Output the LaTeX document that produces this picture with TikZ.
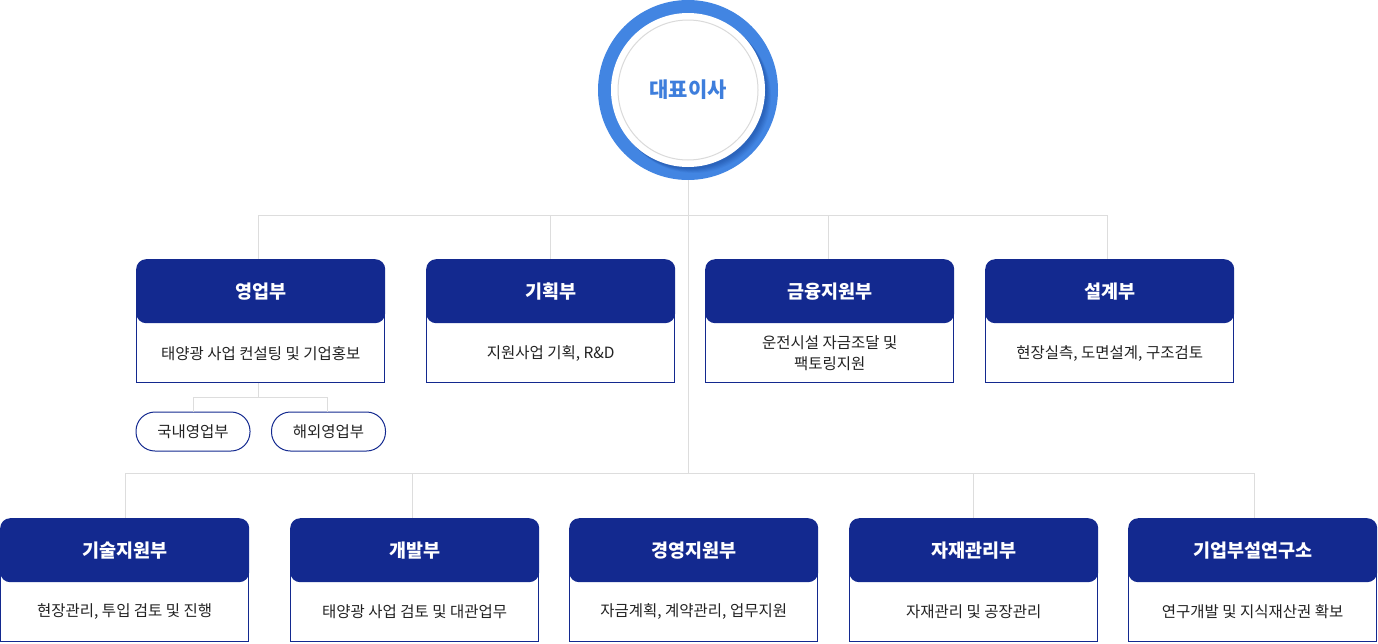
\documentclass[tikz,border=0pt]{standalone}
\usepackage{fontspec}
\usetikzlibrary{calc}
\setmainfont{Noto Sans CJK KR}
\definecolor{navy}{RGB}{19,41,143}
\definecolor{ringblue}{RGB}{66,133,226}
\definecolor{shadowblue}{RGB}{36,88,175}
\definecolor{ceotext}{RGB}{62,126,220}
\definecolor{linegray}{RGB}{221,221,221}
\definecolor{circgray}{RGB}{218,218,218}
\definecolor{bodytext}{RGB}{34,34,34}
\tikzset{
  conn/.style={draw=linegray, line width=1pt},
  deptbox/.style={rectangle, inner sep=0pt, minimum width=249pt, minimum height=124pt, anchor=north west},
  dhead/.style={rectangle, rounded corners=10pt, fill=navy, text=white, font=\bfseries\fontsize{18.5}{22}\selectfont, inner sep=0pt, minimum width=249pt, minimum height=64pt, anchor=north west},
  dbody/.style={text=bodytext, font=\fontsize{15.5}{21}\selectfont, align=center, inner sep=0pt},
  outline/.style={draw=navy, line width=1pt},
  pill/.style={rectangle, rounded corners=19pt, draw=navy, line width=1pt, minimum width=114pt, minimum height=39pt, inner sep=0pt, text=bodytext, font=\fontsize{15.5}{17}\selectfont},
}
\begin{document}
\begin{tikzpicture}[x=1pt,y=-1pt]
\useasboundingbox (0,0) rectangle (1378,643);
% --- coordinates for the tree
\coordinate (t1) at (258,215);
\coordinate (t2) at (550,215);
\coordinate (t3) at (828,215);
\coordinate (t4) at (1107,215);
\coordinate (bot) at (688,473);
\coordinate (u1) at (125,473);
\coordinate (u2) at (412,473);
\coordinate (u4) at (973,473);
\coordinate (u5) at (1254,473);
\coordinate (s0) at (258,397);
\coordinate (s1) at (193,397);
\coordinate (s2) at (327,397);

% --- CEO circle
\node[circle, minimum size=180pt, inner sep=0pt] (ceo) at (688,90) {};
\fill[ringblue] (ceo.center) circle (90pt);
\foreach \o/\a in {6/0.12,5/0.16,4/0.2,3/0.25,2/0.3} {
  \fill[shadowblue, opacity=\a] ($(ceo.center)+(\o,\o)$) circle (77pt);
}
\fill[white] (ceo.center) circle (77pt);
\draw[circgray, line width=1pt] (ceo.center) circle (70pt);
\node[text=ceotext, font=\bfseries\fontsize{21}{24}\selectfont] at (ceo.center) {대표이사};

% --- boxes
\foreach \n/\x in {b1/136, b2/426, b3/705, b4/985} {
  \node[deptbox] (\n) at (\x,259) {};
}
\foreach \n/\x in {c1/0, c2/290, c3/569, c4/849, c5/1128} {
  \node[deptbox] (\n) at (\x,518) {};
}

% connectors
\draw[conn] (ceo.south) -- (bot);
\draw[conn] (t1) -- (t4);
\draw[conn] (t1) -- (t1 |- b1.north);
\draw[conn] (t2) -- (t2 |- b2.north);
\draw[conn] (t3) -- (t3 |- b3.north);
\draw[conn] (t4) -- (t4 |- b4.north);
\draw[conn] (u1) -- (u5);
\draw[conn] (u1) -- (u1 |- c1.north);
\draw[conn] (u2) -- (u2 |- c2.north);
\draw[conn] (u4) -- (u4 |- c4.north);
\draw[conn] (u5) -- (u5 |- c5.north);
\draw[conn] (s0 |- b1.south) -- (s0);
\draw[conn] (s1) -- (s2);

% pills
\node[pill] (p1) at (193,431.5) {국내영업부};
\node[pill] (p2) at (328.5,431.5) {해외영업부};
\draw[conn] (s1) -- (s1 |- p1.north);
\draw[conn] (s2) -- (s2 |- p2.north);

% box outlines and headers
\foreach \n/\t in {b1/영업부, b2/기획부, b3/금융지원부, b4/설계부, c1/기술지원부, c2/개발부, c3/경영지원부, c4/자재관리부, c5/기업부설연구소} {
  \node[dhead] (\n h) at (\n.north west) {\t};
  \draw[outline] ([xshift=0.5pt]\n h.west) -- ([xshift=0.5pt,yshift=0.5pt]\n.south west) -- ([xshift=-0.5pt,yshift=0.5pt]\n.south east) -- ([xshift=-0.5pt]\n h.east);
}

% body texts
\node[dbody] (b1t) at ($(b1.south)+(0,-30)$) {태양광 사업 컨설팅 및 기업홍보};
\node[dbody] (b2t) at ($(b2.south)+(0,-30)$) {지원사업 기획, R\&D};
\node[dbody] (b3t) at ($(b3.south)+(0,-30)$) {운전시설 자금조달 및\\팩토링지원};
\node[dbody] (b4t) at ($(b4.south)+(0,-30)$) {현장실측, 도면설계, 구조검토};
\node[dbody] (c1t) at ($(c1.south)+(0,-31)$) {현장관리, 투입 검토 및 진행};
\node[dbody] (c2t) at ($(c2.south)+(0,-31)$) {태양광 사업 검토 및 대관업무};
\node[dbody] (c3t) at ($(c3.south)+(0,-31)$) {자금계획, 계약관리, 업무지원};
\node[dbody] (c4t) at ($(c4.south)+(0,-31)$) {자재관리 및 공장관리};
\node[dbody] (c5t) at ($(c5.south)+(0,-31)$) {연구개발 및 지식재산권 확보};
\end{tikzpicture}
\end{document}
